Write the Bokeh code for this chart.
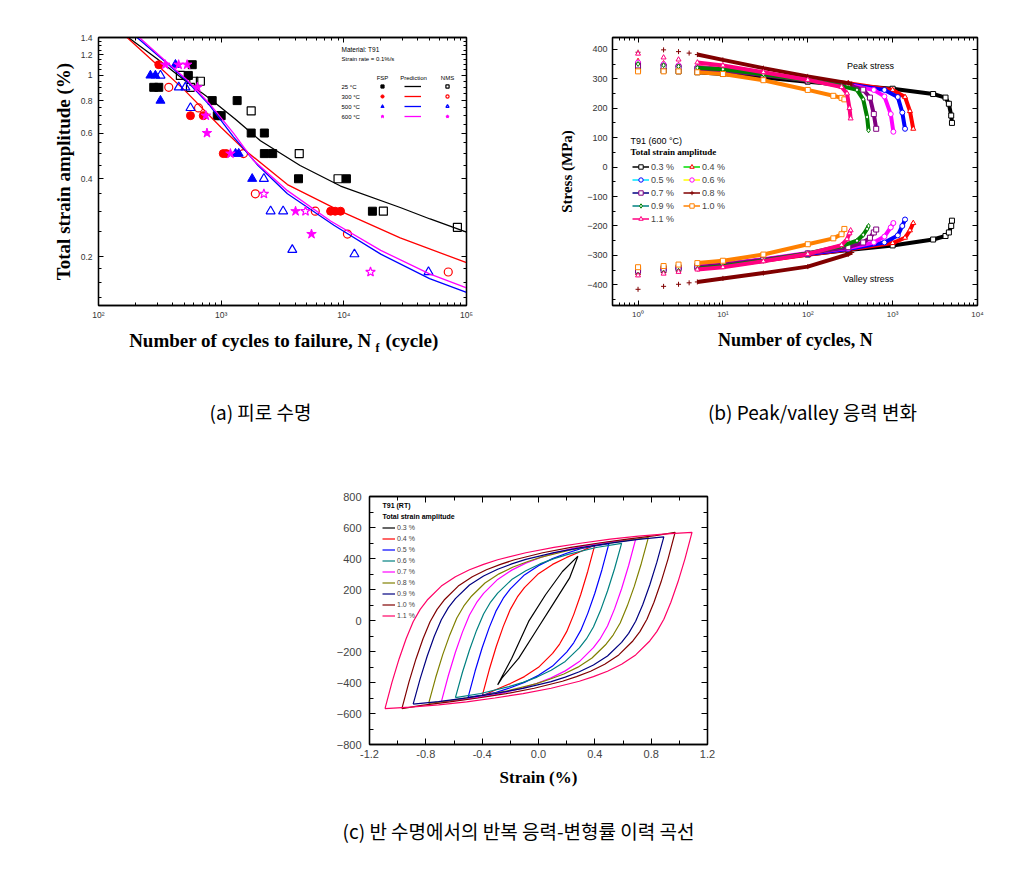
from bokeh.plotting import figure
from bokeh.models import (FixedTicker, CustomJSTickFormatter, LogAxis, LinearAxis,
                          Label, Legend, LegendItem)
from bokeh.layouts import column, row
from bokeh.embed import file_html
from bokeh.resources import INLINE

# ------------------------------------------------------------------ panel (a) data
FSP_N_RT = [581, 540, 282, 310, 845, 1350, 930, 1000, 1757, 2250, 2250, 2630, 4270, 10500, 17100]
FSP_E_RT = [1.1, 1.0, 0.9, 0.9, 0.8, 0.8, 0.7, 0.7, 0.6, 0.6, 0.5, 0.5, 0.4, 0.4, 0.3]
NMS_N_RT = [465, 598, 677, 562, 1757, 4330, 8970, 21000, 84300]
NMS_E_RT = [1.0, 0.95, 0.95, 0.9, 0.73, 0.5, 0.4, 0.3, 0.26]
PRED_N_RT = [175, 300, 500, 820, 1300, 2090, 4400, 9400, 28800, 50500, 100000]
PRED_E_RT = [1.4, 1.16, 0.96, 0.81, 0.68, 0.56, 0.45, 0.375, 0.31, 0.28, 0.249]

FSP_N_300 = [310, 562, 715, 1040, 1100, 7800, 8500, 9400]
FSP_E_300 = [1.1, 0.7, 0.7, 0.5, 0.5, 0.3, 0.3, 0.3]
NMS_N_300 = [374, 654, 1520, 1900, 5850, 10700, 71000]
NMS_E_300 = [0.9, 0.75, 0.5, 0.35, 0.3, 0.245, 0.175]
PRED_N_300 = [171, 300, 500, 1000, 1530, 3470, 9370, 28800, 100000]
PRED_E_300 = [1.4, 1.1, 0.88, 0.63, 0.52, 0.38, 0.30, 0.237, 0.19]

FSP_N_500 = [265, 291, 424, 320, 1310, 1390, 1790]
FSP_E_500 = [1.0, 1.0, 1.1, 0.8, 0.5, 0.5, 0.4]
NMS_N_500 = [320, 451, 511, 562, 2230, 2530, 3200, 3800, 12200, 49000]
NMS_E_500 = [1.0, 0.9, 0.9, 0.75, 0.4, 0.3, 0.3, 0.213, 0.205, 0.175]
PRED_N_500 = [206, 350, 528, 800, 1260, 2000, 3470, 8300, 20000, 50000, 100000]
PRED_E_500 = [1.4, 1.13, 0.95, 0.77, 0.58, 0.45, 0.35, 0.265, 0.205, 0.165, 0.146]

FSP_N_600 = [350, 450, 528, 640, 750, 766, 1190, 4040, 5450]
FSP_E_600 = [1.1, 1.1, 1.1, 0.9, 0.7, 0.6, 0.5, 0.3, 0.245]
NMS_N_600 = [2230, 4870, 16500]
NMS_E_600 = [0.35, 0.3, 0.175]
PRED_N_600 = [215, 350, 528, 800, 1260, 1840, 3470, 7800, 20000, 50000, 100000]
PRED_E_600 = [1.4, 1.14, 0.96, 0.78, 0.6, 0.47, 0.36, 0.275, 0.212, 0.172, 0.152]

TEMP_LABELS = ["25 \u00b0C", "300 \u00b0C", "500 \u00b0C", "600 \u00b0C"]

# ------------------------------------------------------------------ panel (b) data
N_03 = [1, 2, 3, 5, 10, 30, 100, 300, 1000, 3000, 4200, 4600, 4900, 5000]
PEAK_03 = [330, 328, 325, 322, 316, 304, 290, 278, 266, 248, 236, 215, 175, 150]
VALLEY_03 = [-345, -343, -340, -336, -330, -315, -297, -282, -266, -246, -234, -222, -200, -182]

N_04 = [1, 2, 3, 5, 10, 30, 100, 300, 1000, 1400, 1600, 1750]
PEAK_04 = [360, 352, 346, 340, 332, 318, 300, 285, 262, 238, 190, 130]
VALLEY_04 = [-360, -354, -349, -343, -335, -318, -298, -280, -258, -240, -215, -190]

N_05 = [1, 2, 3, 5, 10, 30, 100, 300, 800, 1150, 1300, 1400]
PEAK_05 = [350, 345, 341, 336, 329, 315, 297, 281, 262, 238, 185, 130]
VALLEY_05 = [-355, -350, -345, -340, -332, -315, -295, -278, -256, -232, -200, -178]

N_06 = [1, 2, 3, 5, 10, 30, 100, 300, 600, 800, 950, 1020]
PEAK_06 = [355, 349, 345, 339, 332, 317, 298, 280, 262, 240, 180, 120]
VALLEY_06 = [-350, -346, -342, -337, -330, -313, -292, -275, -256, -236, -205, -190]

N_07 = [1, 2, 3, 5, 10, 30, 100, 300, 450, 540, 600, 640]
PEAK_07 = [345, 342, 339, 334, 328, 313, 294, 278, 263, 236, 180, 130]
VALLEY_07 = [-352, -349, -345, -340, -332, -315, -293, -272, -256, -240, -222, -212]

N_08 = [1, 2, 3, 4, 5, 10, 30, 100, 300, 330]
PEAK_08 = [390, 398, 392, 387, 382, 364, 336, 308, 285, 282]
VALLEY_08 = [-415, -405, -398, -393, -390, -378, -360, -338, -296, -290]

N_09 = [1, 2, 3, 5, 10, 30, 100, 250, 380, 450, 500, 520]
PEAK_09 = [350, 346, 342, 337, 332, 315, 295, 275, 262, 230, 170, 125]
VALLEY_09 = [-365, -358, -352, -345, -337, -318, -293, -268, -250, -230, -210, -200]

N_10 = [1, 2, 3, 5, 10, 30, 100, 200, 250, 270]
PEAK_10 = [325, 325, 325, 322, 316, 295, 262, 242, 235, 230]
VALLEY_10 = [-340, -336, -331, -326, -318, -297, -262, -242, -228, -210]

N_11 = [1, 2, 3, 5, 10, 30, 100, 250, 290, 310, 320]
PEAK_11 = [385, 372, 365, 355, 345, 322, 296, 272, 250, 200, 165]
VALLEY_11 = [-368, -362, -356, -348, -340, -320, -295, -265, -245, -225, -215]

AMP_LABELS = ["0.3 %", "0.4 %", "0.5 %", "0.6 %", "0.7 %", "0.8 %", "0.9 %", "1.0 %", "1.1 %"]

# ------------------------------------------------------------------ panel (c) data
L03_E = [-0.29, -0.19, -0.07, 0.05, 0.17, 0.28, 0.22, 0.10, -0.02, -0.14, -0.26, -0.29]
L03_S = [-415, -243, -6, 166, 316, 415, 273, 101, -71, -243, -372, -415]
L04_E = [-0.40, -0.35, -0.30, -0.25, -0.20, -0.15, -0.10, 0.00, 0.10, 0.20, 0.30, 0.40,
         0.35, 0.30, 0.25, 0.20, 0.15, 0.10, 0.00, -0.10, -0.20, -0.30, -0.40]
L04_S = [-488, -318, -168, -38, 72, 152, 212, 302, 362, 407, 445, 488,
         318, 168, 38, -72, -152, -212, -302, -362, -407, -445, -488]
L05_E = [-0.50, -0.45, -0.40, -0.35, -0.30, -0.25, -0.20, -0.10, 0.00, 0.10, 0.20, 0.30, 0.40, 0.50,
         0.45, 0.40, 0.35, 0.30, 0.25, 0.20, 0.10, 0.00, -0.10, -0.20, -0.30, -0.40, -0.50]
L05_S = [-496, -326, -176, -46, 64, 144, 204, 294, 354, 399, 434, 464, 482, 496,
         326, 176, 46, -64, -144, -204, -294, -354, -399, -434, -464, -482, -496]
L06_E = [-0.59, -0.54, -0.49, -0.44, -0.39, -0.34, -0.29, -0.19, -0.09, 0.01, 0.11, 0.21, 0.41, 0.59,
         0.54, 0.49, 0.44, 0.39, 0.34, 0.29, 0.19, 0.09, -0.01, -0.11, -0.21, -0.41, -0.59]
L06_S = [-498, -334, -190, -64, 42, 119, 177, 264, 321, 365, 399, 427, 471, 498,
         334, 190, 64, -42, -119, -177, -264, -321, -365, -399, -427, -471, -498]
L07_E = [-0.69, -0.64, -0.59, -0.54, -0.49, -0.44, -0.39, -0.29, -0.19, -0.09, 0.01, 0.11, 0.31, 0.51, 0.69,
         0.64, 0.59, 0.54, 0.49, 0.44, 0.39, 0.29, 0.19, 0.09, -0.01, -0.11, -0.31, -0.51, -0.69]
L07_S = [-525, -355, -205, -75, 35, 115, 175, 265, 325, 370, 405, 435, 480, 507, 525,
         355, 205, 75, -35, -115, -175, -265, -325, -370, -405, -435, -480, -507, -525]
L08_E = [-0.78, -0.73, -0.68, -0.63, -0.58, -0.53, -0.48, -0.38, -0.28, -0.18, -0.08, 0.02, 0.22, 0.42, 0.62, 0.78,
         0.73, 0.68, 0.63, 0.58, 0.53, 0.48, 0.38, 0.28, 0.18, 0.08, -0.02, -0.22, -0.42, -0.62, -0.78]
L08_S = [-535, -368, -220, -93, 16, 94, 153, 242, 301, 345, 379, 409, 453, 487, 515, 535,
         368, 220, 93, -16, -94, -153, -242, -301, -345, -379, -409, -453, -487, -515, -535]
L09_E = [-0.89, -0.84, -0.79, -0.74, -0.69, -0.64, -0.59, -0.49, -0.39, -0.29, -0.19, -0.09, 0.11, 0.31, 0.51, 0.71, 0.89,
         0.84, 0.79, 0.74, 0.69, 0.64, 0.59, 0.49, 0.39, 0.29, 0.19, 0.09, -0.11, -0.31, -0.51, -0.71, -0.89]
L09_S = [-540, -375, -229, -102, 5, 83, 141, 229, 287, 331, 365, 394, 438, 472, 499, 523, 540,
         375, 229, 102, -5, -83, -141, -229, -287, -331, -365, -394, -438, -472, -499, -523, -540]
L10_E = [-0.97, -0.92, -0.87, -0.82, -0.77, -0.72, -0.67, -0.57, -0.47, -0.37, -0.27, -0.17, 0.03, 0.23, 0.43, 0.63, 0.83, 0.97,
         0.92, 0.87, 0.82, 0.77, 0.72, 0.67, 0.57, 0.47, 0.37, 0.27, 0.17, -0.03, -0.23, -0.43, -0.63, -0.83, -0.97]
L10_S = [-568, -398, -248, -118, -8, 72, 132, 222, 282, 327, 362, 392, 437, 472, 500, 525, 548, 568,
         398, 248, 118, 8, -72, -132, -222, -282, -327, -362, -392, -437, -472, -500, -525, -548, -568]
L11_E = [-1.09, -1.04, -0.99, -0.94, -0.89, -0.84, -0.79, -0.69, -0.59, -0.49, -0.39, -0.29, -0.09, 0.11, 0.31, 0.51, 0.71, 0.91, 1.09,
         1.04, 0.99, 0.94, 0.89, 0.84, 0.79, 0.69, 0.59, 0.49, 0.39, 0.29, 0.09, -0.11, -0.31, -0.51, -0.71, -0.91, -1.09]
L11_S = [-568, -398, -248, -118, -8, 72, 132, 222, 282, 327, 362, 392, 437, 472, 500, 525, 544, 559, 568,
         398, 248, 118, 8, -72, -132, -222, -282, -327, -362, -392, -437, -472, -500, -525, -544, -559, -568]

CAPTION_A = "(a) \ud53c\ub85c \uc218\uba85"
CAPTION_B = "(b) Peak/valley \uc751\ub825 \ubcc0\ud654"
CAPTION_C = "(c) \ubc18 \uc218\uba85\uc5d0\uc11c\uc758 \ubc18\ubcf5 \uc751\ub825-\ubcc0\ud615\ub960 \uc774\ub825 \uace1\uc120"

# ------------------------------------------------------------------ styling helpers
SANS = "Liberation Sans"
SERIF = "Liberation Serif"
KR = "Noto Sans CJK KR"

SUP_CODE = """
const m = {'-':'\u207b','0':'\u2070','1':'\u00b9','2':'\u00b2','3':'\u00b3','4':'\u2074','5':'\u2075'};
const e = Math.round(Math.log10(tick));
return '10' + String(e).split('').map(c => m[c]).join('');
"""


def blank():
    return CustomJSTickFormatter(code="return '';")


def style_axis(ax, tick_size, tick_color="#333333", label_size="14px",
               label_standoff=5, tick_standoff=5, major_in=5, minor_in=3):
    ax.axis_line_color = "black"
    ax.axis_line_width = 1.3
    ax.major_tick_in = major_in
    ax.major_tick_out = 0
    ax.minor_tick_in = minor_in
    ax.minor_tick_out = 0
    ax.major_tick_line_color = "black"
    ax.minor_tick_line_color = "black"
    ax.major_label_text_font = SANS
    ax.major_label_text_font_size = tick_size
    ax.major_label_text_color = tick_color
    ax.major_label_standoff = tick_standoff
    ax.axis_label_text_font = SERIF
    ax.axis_label_text_font_style = "bold"
    ax.axis_label_text_color = "black"
    ax.axis_label_text_font_size = label_size
    ax.axis_label_standoff = label_standoff


def base_fig(**kw):
    p = figure(output_backend="svg", toolbar_location=None, **kw)
    p.grid.visible = False
    p.outline_line_color = "black"
    p.outline_line_width = 1.3
    p.background_fill_color = "white"
    p.border_fill_color = "white"
    return p


def text_fig(width, height):
    t = figure(width=width, height=height, x_range=(0, width), y_range=(0, height),
               x_axis_location=None, y_axis_location=None, output_backend="svg",
               toolbar_location=None, min_border=0)
    t.grid.visible = False
    t.outline_line_color = None
    t.border_fill_color = "white"
    return t


def txt(p, x, y, text, size, font=SANS, style="normal", align="left", color="black"):
    p.add_layout(Label(x=x, y=y, x_units="screen", y_units="screen", text=text,
                       text_font=font, text_font_size=size, text_font_style=style,
                       text_align=align, text_baseline="middle", text_color=color))


# ------------------------------------------------------------------ panel (a)
pa = base_fig(width=500, height=314, x_axis_type="log", y_axis_type="log",
              x_range=(100, 100000), y_range=(0.13, 1.4),
              min_border_left=90, min_border_right=42, min_border_top=29, min_border_bottom=16)

xa_major = [100, 1000, 10000, 100000]
xa_minor = [m * 10 ** k for k in (2, 3, 4) for m in range(2, 10)]
ya_major = [0.2, 0.4, 0.6, 0.8, 1.0, 1.2, 1.4]
ya_minor = [0.14, 0.16, 0.18, 0.25, 0.3, 0.35, 0.45, 0.5, 0.55, 0.65, 0.7, 0.75,
            0.85, 0.9, 0.95, 1.05, 1.1, 1.15, 1.25, 1.3, 1.35]

ax = pa.xaxis[0]
ax.ticker = FixedTicker(ticks=xa_major, minor_ticks=xa_minor)
ax.formatter = CustomJSTickFormatter(code=SUP_CODE)
style_axis(ax, "8.5px", tick_standoff=4)
ay = pa.yaxis[0]
ay.ticker = FixedTicker(ticks=ya_major, minor_ticks=ya_minor)
ay.formatter = CustomJSTickFormatter(code="return String(tick);")
ay.axis_label = "Total strain amplitude (%)"
style_axis(ay, "8.5px", label_size="19px", label_standoff=4, tick_standoff=6)
top_a = LogAxis(ticker=FixedTicker(ticks=xa_major, minor_ticks=xa_minor), formatter=blank())
right_a = LogAxis(ticker=FixedTicker(ticks=ya_major, minor_ticks=ya_minor), formatter=blank())
style_axis(top_a, "8px")
style_axis(right_a, "8px")
pa.add_layout(top_a, "above")
pa.add_layout(right_a, "right")

groups_a = [
    (FSP_N_RT, FSP_E_RT, NMS_N_RT, NMS_E_RT, PRED_N_RT, PRED_E_RT, "black", "square", 8),
    (FSP_N_300, FSP_E_300, NMS_N_300, NMS_E_300, PRED_N_300, PRED_E_300, "red", "circle", 8),
    (FSP_N_500, FSP_E_500, NMS_N_500, NMS_E_500, PRED_N_500, PRED_E_500, "blue", "triangle", 9),
    (FSP_N_600, FSP_E_600, NMS_N_600, NMS_E_600, PRED_N_600, PRED_E_600, "magenta", "star", 10),
]
fsp_items, pred_items, nms_items = [], [], []
for fn, fe, nn, ne, pn, pe, col, mk, sz in groups_a:
    rl = pa.line(pn, pe, line_color=col, line_width=1.3)
    rf = pa.scatter(fn, fe, marker=mk, size=sz, fill_color=col, line_color=col)
    ro = pa.scatter(nn, ne, marker=mk, size=sz, fill_color=None, line_color=col, line_width=1.2)
    fsp_items.append(LegendItem(label=" ", renderers=[rf]))
    pred_items.append(LegendItem(label=" ", renderers=[rl]))
    nms_items.append(LegendItem(label=" ", renderers=[ro]))


def small_legend(items, x, y, gw):
    return Legend(items=items, location=(x, y), orientation="vertical",
                  glyph_width=gw, glyph_height=8, label_height=8, label_width=0,
                  label_standoff=0, spacing=2, padding=0, margin=0,
                  border_line_color=None, background_fill_alpha=0,
                  label_text_font_size="5px")


pa.add_layout(small_legend(fsp_items, 279, 185, 10))
pa.add_layout(small_legend(pred_items, 306, 185, 17))
pa.add_layout(small_legend(nms_items, 344, 185, 10))

txt(pa, 243, 256, "Material: T91", "6.5px")
txt(pa, 243, 247, "Strain rate = 0.1%/s", "6px")
txt(pa, 284, 228, "FSP", "6px", align="center")
txt(pa, 315, 228, "Prediction", "6px", align="center")
txt(pa, 349, 228, "NMS", "6px", align="center")
for i, t in enumerate(TEMP_LABELS):
    txt(pa, 243, 219 - 10 * i, t, "6px")

# ------------------------------------------------------------------ panel (b)
pb = base_fig(width=494, height=314, x_axis_type="log",
              x_range=(0.5, 10000), y_range=(-470, 440),
              min_border_left=104, min_border_right=25, min_border_top=29, min_border_bottom=16)
xb_major = [1, 10, 100, 1000, 10000]
xb_minor = [0.6, 0.7, 0.8, 0.9] + [m * 10 ** k for k in (0, 1, 2, 3) for m in range(2, 10)]
yb_major = list(range(-400, 401, 100))
yb_minor = list(range(-450, 451, 100))
bx = pb.xaxis[0]
bx.ticker = FixedTicker(ticks=xb_major, minor_ticks=xb_minor)
bx.formatter = CustomJSTickFormatter(code=SUP_CODE)
style_axis(bx, "8px", tick_standoff=4)
by = pb.yaxis[0]
by.ticker = FixedTicker(ticks=yb_major, minor_ticks=yb_minor)
by.axis_label = "Stress (MPa)"
style_axis(by, "9px", label_size="15px", label_standoff=9, tick_standoff=5)
top_b = LogAxis(ticker=FixedTicker(ticks=xb_major, minor_ticks=xb_minor), formatter=blank())
right_b = LinearAxis(ticker=FixedTicker(ticks=yb_major, minor_ticks=yb_minor), formatter=blank())
style_axis(top_b, "8px")
style_axis(right_b, "8px")
pb.add_layout(top_b, "above")
pb.add_layout(right_b, "right")

series_b = [(N_03, PEAK_03, VALLEY_03), (N_04, PEAK_04, VALLEY_04), (N_05, PEAK_05, VALLEY_05),
            (N_06, PEAK_06, VALLEY_06), (N_07, PEAK_07, VALLEY_07), (N_08, PEAK_08, VALLEY_08),
            (N_09, PEAK_09, VALLEY_09), (N_10, PEAK_10, VALLEY_10), (N_11, PEAK_11, VALLEY_11)]
B_COLORS = ["black", "red", "blue", "magenta", "purple", "#800000", "green", "#ff8000", "#ff0080"]
B_LEG_LINE = ["black", "#00dd00", "#00e5ff", "#ffff00", "#000080", "#800000", "#008080", "#ff8000", "#ff0080"]
B_MARKERS = ["square", "triangle", "circle", "circle", "square", "cross", "diamond", "square", "triangle"]

b_items = []
for (n, pk, vl), col, lcol, mk, lab in zip(series_b, B_COLORS, B_LEG_LINE, B_MARKERS, AMP_LABELS):
    first = None
    for ys in (pk, vl):
        pts = [(a, b) for a, b in zip(n, ys) if a >= 5]
        xs_l = [a for a, _ in pts]
        ys_l = [b for _, b in pts]
        thin = pb.line(xs_l, ys_l, line_color=lcol, line_width=1.5)
        pb.line(xs_l, ys_l, line_color=col, line_width=4)
        mr = pb.scatter(n, ys, marker=mk, size=5, line_color=col, fill_color="white", line_width=1)
        if first is None:
            first = (thin, mr)
    b_items.append(LegendItem(label=lab, renderers=list(first)))

pb.add_layout(Legend(items=b_items, location=(20, 81), orientation="horizontal", ncols=2,
                     glyph_width=17, glyph_height=11, label_height=11, label_width=30,
                     label_standoff=2, spacing=2, padding=0, margin=0,
                     border_line_color=None, background_fill_alpha=0,
                     label_text_font=SANS, label_text_font_size="9px"))
txt(pb, 18, 165, "T91 (600 \u00b0C)", "9px")
txt(pb, 18, 154, "Total strain amplitude", "9px", font=SERIF, style="bold")
txt(pb, 258, 240, "Peak stress", "9px", align="center")
txt(pb, 256, 27, "Valley stress", "9px", align="center")

# ------------------------------------------------------------------ x labels + captions of (a), (b)
tab = text_fig(994, 110)
txt(tab, 363, 92, "Number of cycles to failure, N", "19px", font=SERIF, style="bold", align="right")
txt(tab, 367, 85, "f", "12px", font=SERIF, style="bold")
txt(tab, 377, 92, "(cycle)", "19px", font=SERIF, style="bold")
txt(tab, 787, 93, "Number of cycles, N", "18px", font=SERIF, style="bold", align="center")
txt(tab, 252, 21, CAPTION_A, "19px", font=KR, align="center")
txt(tab, 804, 21, CAPTION_B, "19px", font=KR, align="center")

# ------------------------------------------------------------------ panel (c)
pc = base_fig(width=994, height=360, x_range=(-1.2, 1.2), y_range=(-800, 800),
              min_border_left=361, min_border_right=295, min_border_top=64, min_border_bottom=48)
xc_major = [-1.2, -0.8, -0.4, 0.0, 0.4, 0.8, 1.2]
xc_minor = [-1.0, -0.6, -0.2, 0.2, 0.6, 1.0]
yc_major = list(range(-800, 801, 200))
yc_minor = list(range(-700, 701, 200))
cx = pc.xaxis[0]
cx.ticker = FixedTicker(ticks=xc_major, minor_ticks=xc_minor)
cx.formatter = CustomJSTickFormatter(code="return tick.toFixed(1);")
cx.axis_label = "Strain (%)"
style_axis(cx, "11px", tick_color="#444444", label_size="17px", label_standoff=7, tick_standoff=5,
           major_in=6, minor_in=4)
cy = pc.yaxis[0]
cy.ticker = FixedTicker(ticks=yc_major, minor_ticks=yc_minor)
style_axis(cy, "11px", tick_color="#444444", tick_standoff=8, major_in=6, minor_in=4)
top_c = LinearAxis(ticker=FixedTicker(ticks=xc_major, minor_ticks=xc_minor), formatter=blank())
right_c = LinearAxis(ticker=FixedTicker(ticks=yc_major, minor_ticks=yc_minor), formatter=blank())
style_axis(top_c, "8px", major_in=6, minor_in=4)
style_axis(right_c, "8px", major_in=6, minor_in=4)
pc.add_layout(top_c, "above")
pc.add_layout(right_c, "right")

loops = [(L03_E, L03_S), (L04_E, L04_S), (L05_E, L05_S), (L06_E, L06_S), (L07_E, L07_S),
         (L08_E, L08_S), (L09_E, L09_S), (L10_E, L10_S), (L11_E, L11_S)]
C_COLORS = ["black", "red", "blue", "#008080", "magenta", "#808000", "#000080", "#800000", "#ff0066"]
c_items = []
for (e, s), col, lab in zip(loops, C_COLORS, AMP_LABELS):
    r = pc.line(e, s, line_color=col, line_width=1.2)
    c_items.append(LegendItem(label=lab, renderers=[r]))
pc.add_layout(Legend(items=c_items, location=(13, 124), orientation="vertical",
                     glyph_width=13, glyph_height=9, label_height=9, label_width=20,
                     label_standoff=2, spacing=2, padding=0, margin=0,
                     border_line_color=None, background_fill_alpha=0,
                     label_text_font=SANS, label_text_font_size="7px"))
txt(pc, 13, 239, "T91 (RT)", "7px", style="bold")
txt(pc, 13, 228, "Total strain amplitude", "7px", style="bold")

tc = text_fig(994, 69)
txt(tc, 510, 31, CAPTION_C, "19px", font=KR, align="center")

layout = column(row(pa, pb), row(tab), row(pc), row(tc), margin=(8, 0, 0, 8))
open("out.html", "w").write(file_html(layout, INLINE))
